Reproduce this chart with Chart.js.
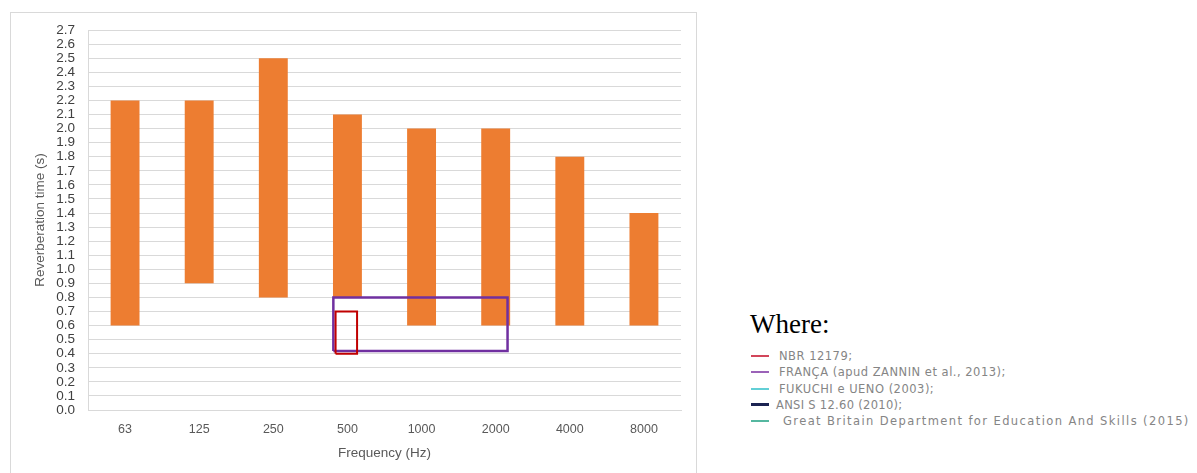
<!DOCTYPE html>
<html>
<head>
<meta charset="utf-8">
<script src="https://cdn.jsdelivr.net/npm/chart.js@4.4.1/dist/chart.umd.min.js"></script>
<style>
  html, body { margin: 0; padding: 0; background: #ffffff; width: 1197px; height: 473px; overflow: hidden; }
  #frame { position: absolute; left: 10px; top: 12px; width: 687px; height: 470px; border: 1px solid #d9d9d9; box-sizing: border-box; }
  #wrap { position: absolute; left: 0px; top: -4px; width: 685px; height: 464px; }
  #where { position: absolute; left: 750px; top: 309px; font-family: "Liberation Serif", "Times New Roman", serif; font-size: 27px; color: #000; }
  #legend { position: absolute; left: 751px; top: 348px; font-family: "DejaVu Sans", sans-serif; font-size: 11.5px; letter-spacing: 0.5px; color: #858585; white-space: nowrap; }
  .row { position: relative; height: 16.3px; line-height: 16.3px; }
  .sw { position: absolute; left: 0; top: 7px; width: 18px; height: 2px; }
  .txt { position: absolute; left: 17px; top: 0; }
</style>
</head>
<body>
<div id="frame"><div id="wrap"><canvas id="c" width="685" height="464"></canvas></div></div>
<div id="where">Where:</div>
<div id="legend"></div>
<script>
// ---- data ----
const categories = ["63", "125", "250", "500", "1000", "2000", "4000", "8000"];
const barLow  = [0.6, 0.9, 0.8, 0.8, 0.6, 0.6, 0.6, 0.6];
const barHigh = [2.2, 2.2, 2.5, 2.1, 2.0, 2.0, 1.8, 1.4];
const yTicks = [0.0,0.1,0.2,0.3,0.4,0.5,0.6,0.7,0.8,0.9,1.0,1.1,1.2,1.3,1.4,1.5,1.6,1.7,1.8,1.9,2.0,2.1,2.2,2.3,2.4,2.5,2.6,2.7];
// NBR 12179 range box (category-index units on x, seconds on y)
const nbrX = [2.84, 3.13];
const nbrY = [0.40, 0.70];
// FRANÇA range box
const francaX = [2.81, 5.16];
const francaY = [0.42, 0.80];
const legendNames = ["NBR 12179;", "FRANÇA (apud ZANNIN et al., 2013);", "FUKUCHI e UENO (2003);", "ANSI S 12.60 (2010);", "Great Britain Department for Education And Skills (2015)"];
const legendColors = ["#d2465a", "#9b62b8", "#62cfd6", "#1b2452", "#55b7a0"];
const legendIndent = [10, 10, 10, 7, 14];
const legendSpacing = [0.5, 0.5, 0.5, 0.3, 1.4];

function boxPoints(xs, ys) {
  return [
    {x: xs[0], y: ys[0]}, {x: xs[1], y: ys[0]}, {x: xs[1], y: ys[1]},
    {x: xs[0], y: ys[1]}, {x: xs[0], y: ys[0]}
  ];
}

const ctx = document.getElementById('c').getContext('2d');
new Chart(ctx, {
  type: 'bar',
  data: {
    labels: categories,
    datasets: [
      {
        type: 'bar',
        data: barLow.map((lo, i) => [lo, barHigh[i]]),
        backgroundColor: '#ed7d31',
        borderWidth: 0,
        grouped: false,
        categoryPercentage: 1,
        barPercentage: 0.39,
        order: 3,
        xAxisID: 'x', yAxisID: 'y'
      },
      {
        type: 'line',
        data: boxPoints(francaX, francaY),
        borderColor: '#7030a0',
        borderWidth: 2.5,
        pointRadius: 0,
        fill: false,
        tension: 0,
        order: 2,
        xAxisID: 'xr', yAxisID: 'y'
      },
      {
        type: 'line',
        data: boxPoints(nbrX, nbrY),
        borderColor: '#c00000',
        borderWidth: 2,
        pointRadius: 0,
        fill: false,
        tension: 0,
        order: 1,
        xAxisID: 'xr', yAxisID: 'y'
      }
    ]
  },
  options: {
    responsive: false,
    animation: false,
    events: [],
    layout: { padding: { top: 0, right: 15, left: 0, bottom: 0 } },
    plugins: { legend: { display: false }, tooltip: { enabled: false } },
    scales: {
      x: {
        type: 'category',
        offset: true,
        grid: { display: false, drawTicks: false },
        border: { display: true, color: '#d9d9d9' },
        ticks: { color: '#595959', font: { family: 'Liberation Sans', size: 12.5 }, padding: 12, maxRotation: 0 },
        title: { display: true, text: 'Frequency (Hz)', color: '#595959', font: { family: 'Liberation Sans', size: 13.5 }, padding: { top: 4, bottom: 12 } },
        afterFit: (s) => { s.height = 63; }
      },
      xr: {
        type: 'linear',
        axis: 'x',
        position: 'bottom',
        display: false,
        offset: false,
        grid: { offset: false },
        min: -0.5,
        max: 7.5
      },
      y: {
        min: 0,
        max: 2.7,
        afterBuildTicks: (s) => { s.ticks = yTicks.map(v => ({ value: v })); },
        grid: { color: '#d9d9d9', lineWidth: 1, drawTicks: false },
        border: { display: true, color: '#d9d9d9' },
        ticks: {
          autoSkip: false,
          color: '#404040',
          font: { family: 'Liberation Sans', size: 13.5 },
          padding: 13,
          callback: (v) => Number(v).toFixed(1)
        },
        title: { display: true, text: 'Reverberation time (s)', color: '#595959', font: { family: 'Liberation Sans', size: 13.5 }, padding: { top: 21, bottom: 0 } },
        afterFit: (s) => { s.width = 77; }
      }
    }
  }
});

const leg = document.getElementById('legend');
legendNames.forEach((name, i) => {
  const row = document.createElement('div');
  row.className = 'row';
  const sw = document.createElement('div');
  sw.className = 'sw';
  sw.style.background = legendColors[i];
  const t = document.createElement('div');
  t.className = 'txt';
  t.textContent = name;
  t.style.left = (18 + legendIndent[i]) + 'px';
  t.style.letterSpacing = legendSpacing[i] + 'px';
  if (i === 3) { sw.style.height = '3px'; sw.style.top = '6.5px'; }
  row.appendChild(sw); row.appendChild(t);
  leg.appendChild(row);
});
</script>
</body>
</html>
